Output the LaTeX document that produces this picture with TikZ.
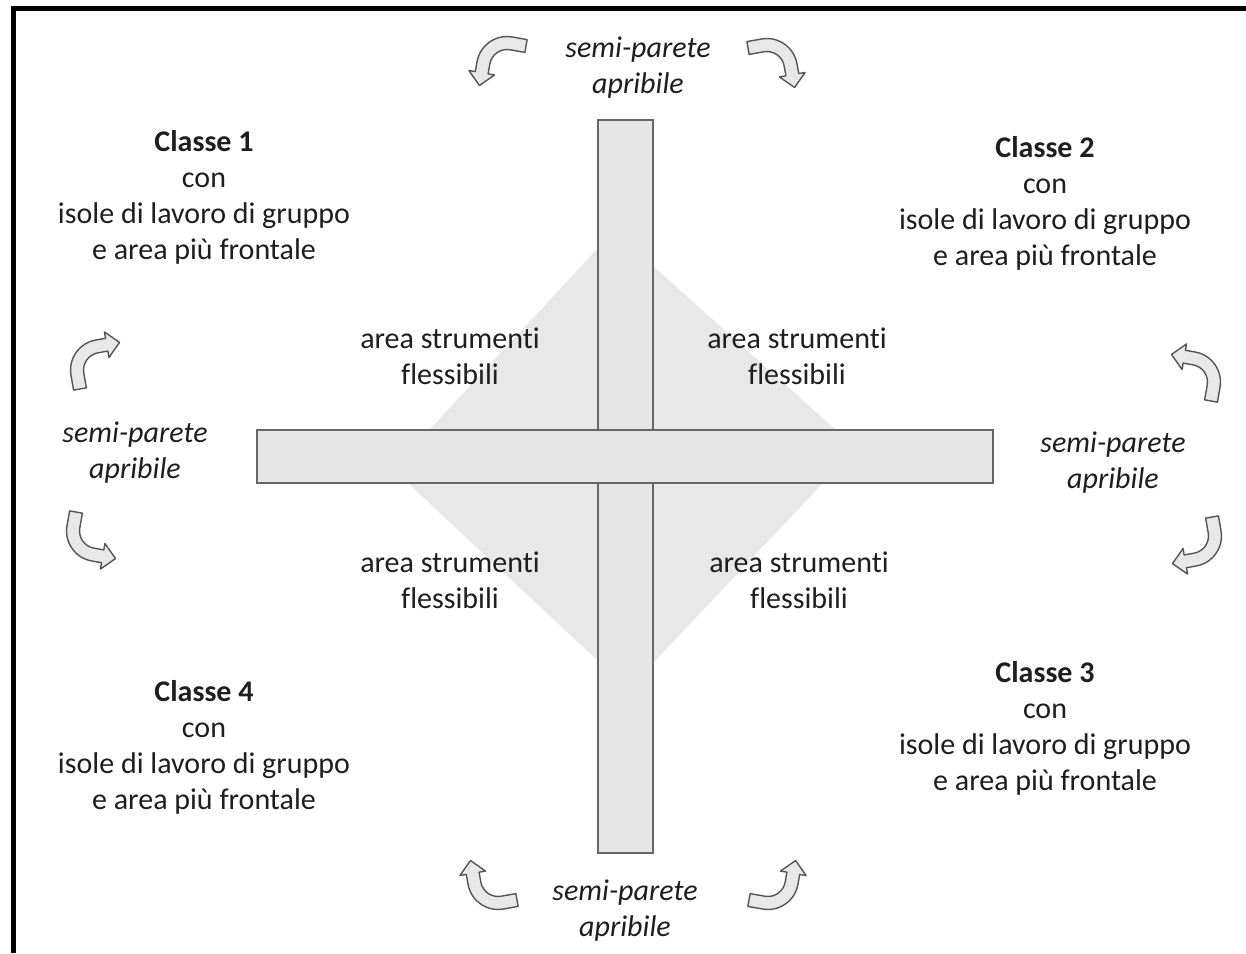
\documentclass[tikz,border=0pt]{standalone}
\usepackage{fontspec}
\setmainfont{Carlito}[Ligatures=NoCommon, Contextuals=NoAlternate]
\definecolor{txt}{HTML}{1E1E1E}
\definecolor{barfill}{HTML}{E6E6E6}
\definecolor{barline}{HTML}{666666}
\definecolor{diafill}{HTML}{E8E8E8}
\definecolor{arrfill}{HTML}{E8E8E8}
\definecolor{arrline}{HTML}{555555}
\tikzset{
  lbl/.style={align=center, text=txt, font=\fontsize{30}{36}\selectfont, inner sep=0pt},
  lblit/.style={lbl, font=\fontsize{30}{36}\selectfont\itshape},
  wallbar/.style={fill=barfill, draw=barline, line width=1.8pt},
  arrowshape/.style={fill=arrfill, draw=arrline, line width=1.4pt, line join=round},
  bentarrow/.pic={
    \draw[arrowshape] (-6.5,0) -- (-6.5,-15) arc[start angle=180,end angle=270,radius=30.5]
      -- ++(10,0) -- ++(0,-6.5) -- ++(13,13) -- ++(-13,13) -- ++(0,-6.5) -- ++(-10,0)
      arc[start angle=270,end angle=180,radius=17.5] -- (6.5,0) -- cycle;
  }
}
\begin{document}
\begin{tikzpicture}[x=1pt,y=1pt]
\useasboundingbox (0,0) rectangle (1246,-953);
\fill[white] (0,0) rectangle (1246,-953);
% frame
\draw[line width=5pt, line join=miter] (13.5,-953) -- (13.5,-8.5) -- (1246,-8.5);
% diamond (area strumenti flessibili)
\fill[diafill] (393,-469) -- (598,-248) -- (653,-266) -- (856,-448) -- (653,-663) -- (598,-661) -- cycle;
% bars
\draw[wallbar] (598,-120) rectangle (653,-853);
\draw[wallbar] (257,-430) rectangle (993,-483);
% class labels
\node[lbl] (c1) at (204,-197) {\textbf{Classe 1}\\con\\isole di lavoro di gruppo\\e area più frontale};
\node[lbl] (c2) at (1045,-203) {\textbf{Classe 2}\\con\\isole di lavoro di gruppo\\e area più frontale};
\node[lbl] (c3) at (1045,-728) {\textbf{Classe 3}\\con\\isole di lavoro di gruppo\\e area più frontale};
\node[lbl] (c4) at (204,-747) {\textbf{Classe 4}\\con\\isole di lavoro di gruppo\\e area più frontale};
% semi-parete labels
\node[lblit] (spt) at (638,-68) {semi-parete\\apribile};
\node[lblit] (spl) at (135,-453) {semi-parete\\apribile};
\node[lblit] (spr) at (1113,-463) {semi-parete\\apribile};
\node[lblit] (spb) at (625,-911) {semi-parete\\apribile};
% area labels
\node[lbl] (atl) at (450,-356) {area strumenti\\flessibili};
\node[lbl] (atr) at (797,-356) {area strumenti\\flessibili};
\node[lbl] (abl) at (450,-580) {area strumenti\\flessibili};
\node[lbl] (abr) at (799,-580) {area strumenti\\flessibili};
% curved arrows
\pic[rotate=-10] at (76,-512) {bentarrow};
\pic[yscale=-1, rotate=-10] at (80,-389) {bentarrow};
\pic[xscale=-1, rotate=-10] at (1212,-517) {bentarrow};
\pic[xscale=-1, yscale=-1, rotate=-10] at (1211,-401) {bentarrow};
\pic[rotate=-100] at (526,-46) {bentarrow};
\pic[xscale=-1, rotate=-100] at (748,-48) {bentarrow};
\pic[yscale=-1, rotate=-100] at (517,-900) {bentarrow};
\pic[xscale=-1, yscale=-1, rotate=-100] at (749,-900) {bentarrow};
\end{tikzpicture}
\end{document}
